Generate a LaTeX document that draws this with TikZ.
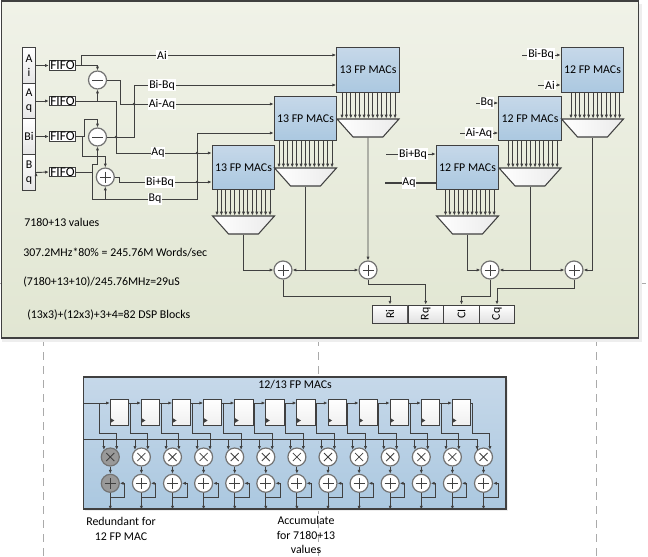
\documentclass[tikz,border=0pt]{standalone}
\usepackage{fontspec}
\setmainfont{Carlito}
\usetikzlibrary{shapes,arrows,arrows.meta}
\definecolor{wirecol}{HTML}{404040}
\definecolor{uptop}{HTML}{F0F2E8}
\definecolor{upbot}{HTML}{E1E6D2}
\definecolor{lowtop}{HTML}{C6D8E9}
\definecolor{lowbot}{HTML}{ABC8E0}
\definecolor{guidecol}{HTML}{AAAAAA}
\definecolor{shadowcol}{HTML}{EEEEEE}
\begin{document}
\begin{tikzpicture}[x=0.75pt,y=-0.75pt,font=\fontsize{8.9}{10.7}\selectfont]
\tikzstyle{panel}=[rectangle, draw=wirecol, line width=0.9pt, inner sep=0pt]
\tikzstyle{macbox}=[rectangle, draw=wirecol, line width=0.8pt, top color=lowtop, bottom color=lowbot, minimum width=47pt, minimum height=33.4pt, inner sep=0pt]
\tikzstyle{mux}=[trapezium, trapezium left angle=64, trapezium right angle=64, shape border rotate=180, trapezium stretches, draw=wirecol, line width=0.8pt, left color=white, right color=black!8, minimum width=46.5pt, minimum height=13.5pt, inner sep=0pt, execute at begin node={\phantom{x}}]
\tikzstyle{inbox}=[rectangle, draw=wirecol, line width=0.6pt, top color=white, bottom color=black!10, minimum width=10pt, minimum height=26.6pt, inner sep=0pt, align=center]
\tikzstyle{fifo}=[rectangle, draw=wirecol, line width=0.6pt, fill=white, minimum width=20pt, minimum height=7pt, inner sep=0pt, font=\fontsize{10}{10}\selectfont]
\tikzstyle{outbox}=[rectangle, rotate=90, draw=wirecol, line width=0.7pt, top color=white, bottom color=black!12, minimum width=13.5pt, minimum height=26.6pt, inner sep=0pt]
\tikzstyle{reg}=[rectangle, draw=wirecol, line width=0.7pt, top color=white, bottom color=black!6, minimum width=13.7pt, minimum height=19.5pt, inner sep=0pt,
  path picture={\fill[wirecol] (path picture bounding box.south west) ++(0,-2) -- ++(4,-2.5) -- ++(-4,-2.5) -- cycle;}]
\tikzstyle{op}=[circle, draw=black!55, line width=0.9pt, fill=white, minimum size=13.5pt, inner sep=0pt]
\tikzstyle{plusop}=[op, path picture={\draw[wirecol,line width=0.6pt] (path picture bounding box.center) ++(-5.5,0) -- ++(11,0) ++(-5.5,-5.5) -- ++(0,11);}]
\tikzstyle{minusop}=[op, path picture={\draw[wirecol,line width=0.6pt] (path picture bounding box.center) ++(-5.5,0) -- ++(11,0);}]
\tikzstyle{timesop}=[op, path picture={\draw[wirecol,line width=0.6pt] (path picture bounding box.center) ++(-4,-4) -- ++(8,8) ++(-8,0) -- ++(8,-8);}]
\tikzstyle{junction}=[circle, fill=wirecol, minimum size=2pt, inner sep=0pt]
\tikzstyle{wirelabel}=[fill=white, inner sep=0.6pt]
\tikzstyle{note}=[anchor=west, inner sep=0pt]
\tikzstyle{wire}=[draw=wirecol, line width=0.7pt]
\tikzstyle{connect}=[wire, -{Latex[length=2.8pt,width=2.4pt]}]
\tikzstyle{guide}=[draw=guidecol, line width=0.5pt, dash pattern=on 6pt off 4.5pt]
\useasboundingbox (0,0) rectangle (648,556);

	% guide lines and panels
	\foreach \g/\gx/\gy in {a/43/338,b/318.5/338,c/596/338}{
		\coordinate (guide_\g_t) at (\gx,\gy);
		\coordinate (guide_\g_b) at (\gx,556);
		\draw[guide] (guide_\g_t) -- (guide_\g_b);
	}
	\coordinate (tick_l) at (0,283);
	\coordinate (tick_m) at (2,283);
	\coordinate (tick_r) at (638,283);
	\coordinate (tick_e) at (648,283);
	\draw[guide] (tick_l) -- (tick_m);
	\draw[guide] (tick_r) -- (tick_e);
	\fill[shadowcol] (2,4) rectangle (642,342);
	\node[panel, top color=uptop, bottom color=upbot, minimum width=477.75pt, minimum height=252.75pt] (upper) at (320,169.5) {};
	\fill[shadowcol] (85,380) rectangle (508,511);
	\node[panel, top color=lowtop, bottom color=lowbot, minimum width=317pt, minimum height=99pt] (lower) at (294.7,443) {};

	% inputs
	\node[inbox] (in_ai) at (29,65.5) {A\\i};
	\node[inbox] (in_aq) at (29,101) {A\\q};
	\node[inbox] (in_bi) at (29,136.5) {Bi};
	\node[inbox] (in_bq) at (29,172.5) {B\\q};
	\node[fifo] (fifo_ai) at (62.5,65.5) {FIFO};
	\node[fifo] (fifo_aq) at (62.5,101) {FIFO};
	\node[fifo] (fifo_bi) at (62.5,136.5) {FIFO};
	\node[fifo] (fifo_bq) at (62.5,172) {FIFO};
	\node[minusop] (sub_1) at (97.5,80) {};
	\node[minusop] (sub_2) at (97.5,137) {};
	\node[plusop] (add_1) at (105.3,177) {};

	% MAC blocks
	\node[macbox] (mac_a) at (368,70) {13 FP MACs};
	\node[macbox] (mac_b) at (305.5,118.5) {13 FP MACs};
	\node[macbox] (mac_c) at (243.5,167.5) {13 FP MACs};
	\node[macbox] (mac_d) at (592.5,70) {12 FP MACs};
	\node[macbox] (mac_e) at (530,118.5) {12 FP MACs};
	\node[macbox] (mac_f) at (467.5,167.5) {12 FP MACs};
	\node[mux] (mux_a) at (368,128) {};
	\node[mux] (mux_b) at (305.5,177) {};
	\node[mux] (mux_c) at (243.5,225) {};
	\node[mux] (mux_d) at (592.5,128) {};
	\node[mux] (mux_e) at (530,177) {};
	\node[mux] (mux_f) at (467.5,225) {};
	\foreach \mac/\muxn/\lo/\n in {mac_a/mux_a/342/12,mac_b/mux_b/279/12,mac_c/mux_c/217/12,mac_d/mux_d/571/11,mac_e/mux_e/508.5/11,mac_f/mux_f/445.5/11}{
		\foreach \k in {0,...,\n}{
			\coordinate (bit) at (\lo+\k*4.42,0);
			\draw[connect] (\mac.south -| bit) -- (\muxn.north -| bit);
		}
	}

	% summers and result registers
	\node[plusop] (rsum_1) at (283,270) {};
	\node[plusop] (rsum_2) at (368,270) {};
	\node[plusop] (csum_1) at (490,270) {};
	\node[plusop] (csum_2) at (574,270) {};
	\node[outbox] (out_ri) at (390,314) {Ri};
	\node[outbox] (out_rq) at (425.7,314) {Rq};
	\node[outbox] (out_ci) at (461.5,314) {CI};
	\node[outbox] (out_cq) at (497,314) {Cq};

	% wire turns
	\coordinate (ai_tap) at (81,65.5);
	\coordinate (ai_line) at (81,55);
	\coordinate (aq_tap) at (97.5,101);
	\coordinate (aq_turn) at (116,153);
	\coordinate (s1_turn) at (120,104);
	\coordinate (s2_turn) at (134,85);
	\coordinate (bi_tap) at (84,136.5);
	\coordinate (bi_low) at (82,136.5);
	\coordinate (bi_up) at (84,119);
	\coordinate (bi_down) at (82,156);
	\coordinate (bq_tap) at (92.5,172);
	\coordinate (bq_up) at (92.5,164);
	\coordinate (bq_run) at (92.5,199);
	\coordinate (bq_turn) at (197,199);
	\coordinate (bq_in) at (197,133);
	\coordinate (a1_turn) at (119,182);

	\path[connect]
		(in_ai.east) edge [] (fifo_ai.west)
		(in_aq.east) edge [] (fifo_aq.west)
		(in_bi.east) edge [] (fifo_bi.west)
		(in_bq.east) edge [] (fifo_bq.west);
	\draw[wire] (fifo_ai.east) -- (ai_tap);
	\draw[connect] (ai_tap) |- (mac_a.west |- ai_line);
	\draw[connect] (ai_tap) -| (sub_1.north);
	\draw[connect] (fifo_aq.east) -| (aq_turn) -- (mac_c.west |- aq_turn);
	\draw[connect] (aq_tap) -- (sub_1.south);
	\draw[connect] (sub_1.east) -| (s1_turn) -- (mac_b.west |- s1_turn);
	\draw[connect] (sub_2.east) -| (s2_turn) -- (mac_a.west |- s2_turn);
	\draw[wire] (fifo_bi.east) -- (bi_tap);
	\draw[connect] (bi_tap) |- (sub_2.north |- bi_up) -- (sub_2.north);
	\draw[connect] (bi_low) |- (add_1.north |- bi_down) -- (add_1.north);
	\draw[wire] (fifo_bq.east) -- (bq_tap);
	\draw[connect] (bq_tap) |- (sub_2.south |- bq_up) -- (sub_2.south);
	\draw[connect] (bq_tap) |- (bq_turn) |- (mac_b.west |- bq_in);
	\draw[connect] (add_1.south |- bq_run) -- (add_1.south);
	\draw[connect] (add_1.east) -| (a1_turn) -- (mac_c.west |- a1_turn);

	\node[junction] (dot_1) at (134,104) {};
	\node[junction] (dot_2) at (116,137) {};
	\node[junction] (dot_3) at (197,153) {};
	\node[junction] (dot_4) at (197,182) {};

	\node[wirelabel] (lbl_ai) at (162,55) {Ai};
	\node[wirelabel] (lbl_bibq) at (162,85) {Bi-Bq};
	\node[wirelabel] (lbl_aiaq) at (162,104) {Ai-Aq};
	\node[wirelabel] (lbl_aq) at (158,153) {Aq};
	\node[wirelabel] (lbl_bipq) at (160,182) {Bi+Bq};
	\node[wirelabel] (lbl_bq) at (155,199) {Bq};

	% inputs of the 12 FP blocks
	\coordinate (d_in1) at (522,55);
	\coordinate (d_in2) at (538,85);
	\coordinate (e_in1) at (476,103);
	\coordinate (e_in2) at (460,133);
	\coordinate (f_in1) at (386,154);
	\coordinate (f_in2) at (385,183);
	\draw[connect] (d_in1) -- (mac_d.west |- d_in1);
	\draw[connect] (d_in2) -- (mac_d.west |- d_in2);
	\draw[connect] (e_in1) -- (mac_e.west |- e_in1);
	\draw[connect] (e_in2) -- (mac_e.west |- e_in2);
	\draw[connect] (f_in1) -- (mac_f.west |- f_in1);
	\draw[wire, line width=0.85pt] (f_in2) -- (mac_f.west |- f_in2);
	\node[wirelabel] (lbl_d1) at (541,54) {Bi-Bq};
	\node[wirelabel] (lbl_d2) at (550,85) {Ai};
	\node[wirelabel] (lbl_e1) at (487,103) {Bq};
	\node[wirelabel] (lbl_e2) at (479,133) {Ai-Aq};
	\node[wirelabel] (lbl_f1) at (413,154) {Bi+Bq};
	\node[wirelabel] (lbl_f2) at (409,183) {Aq};

	% results
	\coordinate (ri_turn) at (283,296.3);
	\coordinate (rq_turn) at (368,284);
	\coordinate (ci_turn) at (490,296);
	\coordinate (cq_turn) at (574,288.3);
	\draw[connect] (mux_c.south) |- (rsum_1.west);
	\draw[connect] (mux_b.south) |- (rsum_1.east);
	\draw[connect] (mux_b.south |- rsum_2) -- (rsum_2.west);
	\draw[connect] (mux_a.south) -- (rsum_2.north);
	\draw[connect] (mux_f.south) |- (csum_1.west);
	\draw[connect] (mux_e.south) |- (csum_1.east);
	\draw[connect] (mux_e.south |- csum_2) -- (csum_2.west);
	\draw[connect] (mux_d.south) |- (csum_2.east);
	\draw[connect] (rsum_1.south) |- (out_ri.east |- ri_turn) -- (out_ri.east);
	\draw[connect] (rsum_2.south) |- (out_rq.east |- rq_turn) -- (out_rq.east);
	\draw[connect] (csum_1.south) |- (out_ci.east |- ci_turn) -- (out_ci.east);
	\draw[connect] (csum_2.south) |- (out_cq.east |- cq_turn) -- (out_cq.east);

	\node[note] (note_1) at (24,222) {7180+13 values};
	\node[note] (note_2) at (23,253) {307.2MHz*80\% = 245.76M Words/sec};
	\node[note] (note_3) at (23,282) {(7180+13+10)/245.76MHz=29uS};
	\node[note] (note_4) at (27,315) {(13x3)+(12x3)+3+4=82 DSP Blocks};

	% 12/13 FP MAC detail
	\node[] (title) at (295,385) {12/13 FP MACs};
	\coordinate (in_line) at (83.5,403);
	\coordinate (bus_line) at (83.5,439.3);
	\coordinate (tap_line) at (83.5,433.3);
	\foreach \i [evaluate=\i as \cx using 110.3+31.1*\i] in {0,...,12}{
		\ifnum\i=0 \def\tone{40}\else\def\tone{0}\fi
		\node[timesop, fill=black!\tone] (mul_\i) at (\cx,457) {};
		\node[plusop, fill=black!\tone] (sum_\i) at (\cx,483.3) {};
		\coordinate (tap_\i) at (\cx-11.3,403);
		\coordinate (fb_\i) at (\cx,497.5);
		\coordinate (fbr_\i) at (\cx+14.5,483.3);
		\draw[connect] (tap_\i) |- (mul_\i.48 |- tap_line) -- (mul_\i.48);
		\draw[connect] (mul_\i.132 |- bus_line) -- (mul_\i.132);
		\draw[connect] (mul_\i) -- (sum_\i);
		\draw[connect] (sum_\i) -- (sum_\i |- lower.south);
		\draw[connect] (fb_\i) -| (fbr_\i) -- (sum_\i);
	}
	\foreach \i [evaluate=\i as \cx using 119.45+31.1*\i] in {0,...,11}{
		\node[reg] (reg_\i) at (\cx,412) {};
	}
	\draw[connect] (in_line) -- (reg_0.west |- in_line);
	\foreach \i [evaluate=\i as \j using int(\i+1)] in {0,...,10}{
		\draw[connect] (reg_\i.east |- in_line) -- (reg_\j.west |- in_line);
	}
	\draw[wire] (reg_11.east |- in_line) -- (tap_12);
	\draw[wire] (bus_line) -| (mul_12.132);
	\node[] (redundant) [align=center] at (121,529) {Redundant for\\12 FP MAC};
	\node[] (accum) [align=center] at (306,535) {Accumulate\\for 7180+13\\values};
\end{tikzpicture}
\end{document}
